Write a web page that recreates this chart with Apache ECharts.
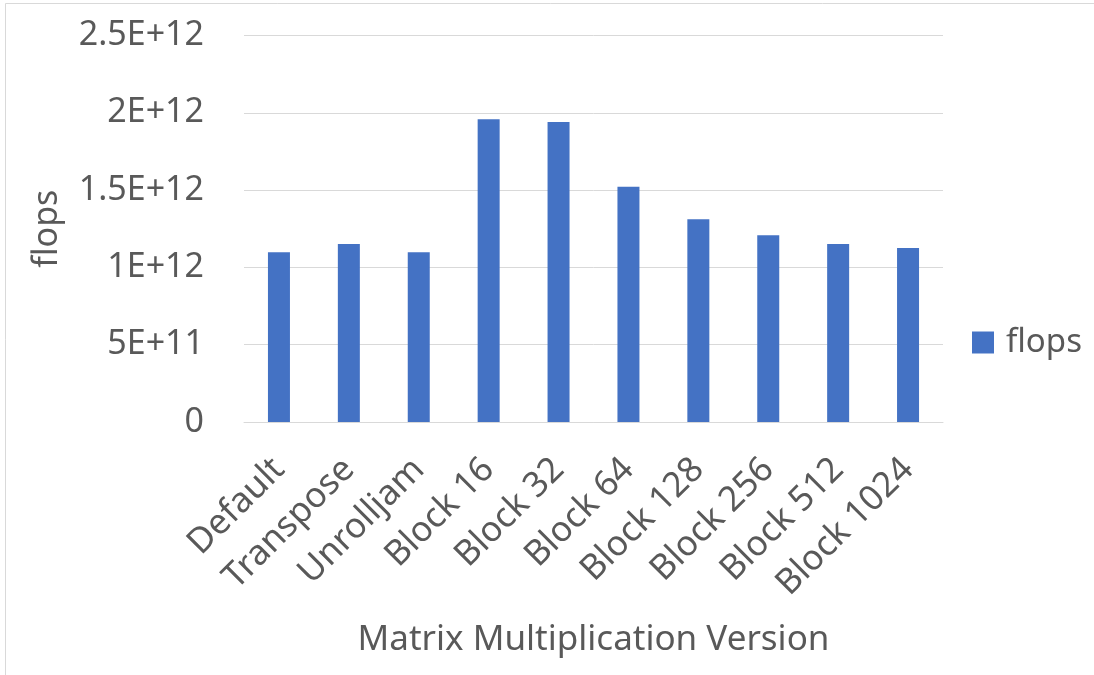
<!DOCTYPE html>
<html>
<head>
<meta charset="utf-8">
<script src="https://cdn.jsdelivr.net/npm/echarts@6/dist/echarts.min.js"></script>
<style>
  html, body { margin: 0; padding: 0; background: #ffffff; }
  #chart { width: 1094px; height: 675px; }
</style>
</head>
<body>
<div id="chart"></div>
<script>
// Matrix multiplication throughput per implementation variant
const categories = ['Default', 'Transpose', 'Unrolljam', 'Block 16', 'Block 32',
  'Block 64', 'Block 128', 'Block 256', 'Block 512', 'Block 1024'];
const flops = [1.098e12, 1.151e12, 1.098e12, 1.958e12, 1.940e12,
  1.522e12, 1.311e12, 1.208e12, 1.151e12, 1.125e12];
const yTickLabels = ['0', '5E+11', '1E+12', '1.5E+12', '2E+12', '2.5E+12'];
const yStep = 5e11;

const FONT = 'Noto Sans';
const GREY = '#595959';

const chart = echarts.init(document.getElementById('chart'), null, { renderer: 'canvas' });
chart.setOption({
  animation: false,
  backgroundColor: '#ffffff',
  textStyle: { fontFamily: FONT, color: GREY },
  graphic: [{
    type: 'rect',
    shape: { x: 5.5, y: 3.5, width: 1200, height: 800 },
    style: { fill: 'none', stroke: '#d9d9d9', lineWidth: 1 },
    silent: true
  }],
  grid: { left: 244, right: 151, top: 35.5, bottom: 253, containLabel: false },
  legend: {
    data: ['flops'],
    left: 967,
    top: 321,
    icon: 'rect',
    itemWidth: 22,
    itemHeight: 22,
    textStyle: { fontFamily: FONT, fontSize: 33, color: GREY, padding: [0, 0, 0, 7] }
  },
  xAxis: {
    type: 'category',
    data: categories,
    name: 'Matrix Multiplication Version',
    nameLocation: 'middle',
    nameGap: 201,
    nameTextStyle: { fontFamily: FONT, fontSize: 35, color: GREY },
    axisLine: { show: true, lineStyle: { color: '#d9d9d9', width: 1 } },
    axisTick: { show: false },
    axisLabel: { rotate: 45, margin: 42, fontFamily: FONT, fontSize: 35, color: GREY, interval: 0 }
  },
  yAxis: {
    type: 'value',
    min: 0,
    max: 2.5e12,
    interval: yStep,
    name: 'flops',
    nameLocation: 'middle',
    nameGap: 180,
    nameRotate: 90,
    nameTextStyle: { fontFamily: FONT, fontSize: 34, color: GREY },
    axisLine: { show: false },
    axisTick: { show: false },
    splitLine: { lineStyle: { color: '#d9d9d9', width: 1 } },
    axisLabel: {
      margin: 40,
      fontFamily: FONT, fontSize: 34, color: GREY,
      formatter: function (v) { return yTickLabels[Math.round(v / yStep)]; }
    }
  },
  series: [{
    name: 'flops',
    type: 'bar',
    data: flops,
    barWidth: 22,
    itemStyle: { color: '#4472c4' }
  }]
});
</script>
</body>
</html>
